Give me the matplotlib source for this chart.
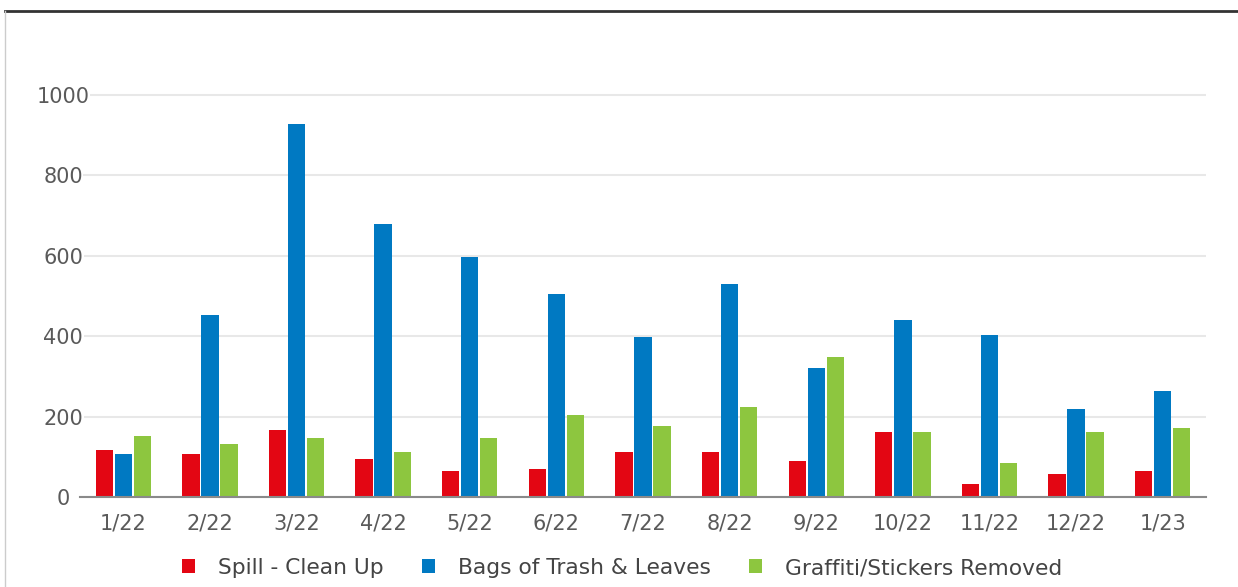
import numpy as np
import matplotlib.pyplot as plt
from matplotlib.lines import Line2D

plt.rcParams['font.family'] = ['DejaVu Sans']

months = ['1/22', '2/22', '3/22', '4/22', '5/22', '6/22', '7/22',
          '8/22', '9/22', '10/22', '11/22', '12/22', '1/23']
spill = [118, 108, 166, 94, 65, 70, 113, 113, 90, 162, 32, 56, 65]
trash = [108, 452, 929, 678, 598, 505, 397, 529, 321, 441, 403, 220, 264]
graffiti = [152, 133, 147, 113, 147, 205, 176, 224, 349, 162, 85, 162, 171]
series_names = ['Spill - Clean Up', 'Bags of Trash & Leaves', 'Graffiti/Stickers Removed']
colors = ['#e30613', '#0079c2', '#8dc63f']
yticks = [0, 200, 400, 600, 800, 1000]

W, H = 1238, 587
fig = plt.figure(figsize=(W / 100, H / 100), dpi=100)
ax = fig.add_axes([80 / W, (H - 497) / H, 1126 / W, (497 - 91) / H])

x = np.arange(len(months))
bw = 0.2
step = 0.22
for i, (vals, name, c) in enumerate(zip([spill, trash, graffiti], series_names, colors)):
    ax.bar(x + (i - 1) * step, vals, bw, color=c, label=name, zorder=3)

ax.set_xlim(-0.5, len(months) - 0.5)
ax.set_ylim(0, 1010)
ax.set_xticks(x)
ax.set_xticklabels(months)
ax.set_yticks(yticks)
ax.set_yticklabels([str(v) for v in yticks])
ax.grid(axis='y', color='#e8e8e8', linewidth=1.5, zorder=0)
ax.set_axisbelow(True)

for s in ['top', 'right', 'left']:
    ax.spines[s].set_visible(False)
ax.spines['bottom'].set_color('#8a8a8a')
ax.spines['bottom'].set_linewidth(1.5)
ax.spines['bottom'].set_zorder(4)

ax.tick_params(axis='x', length=0, pad=12, labelsize=15, labelcolor='#5a5a5a')
ax.tick_params(axis='y', length=0, pad=12.2, labelsize=15, labelcolor='#5a5a5a')
for lab in ax.get_yticklabels():
    lab.set_ha('center')
    lab.set_bbox(dict(facecolor='white', edgecolor='none', pad=0.5))

fig.legend(loc='center', bbox_to_anchor=(622 / W, 1 - 568 / H), ncol=3,
           frameon=False, fontsize=15.7, handlelength=0.6, handleheight=0.6,
           handletextpad=1.05, columnspacing=1.75, labelcolor='#444444')

# outer frame of the screenshot
fig.add_artist(Line2D([5 / W, 1], [1 - 11 / H, 1 - 11 / H], color='#333333', linewidth=2))
fig.add_artist(Line2D([5 / W, 5 / W], [0, 1 - 11 / H], color='#cccccc', linewidth=1))

fig.savefig('out.png', dpi=100)
